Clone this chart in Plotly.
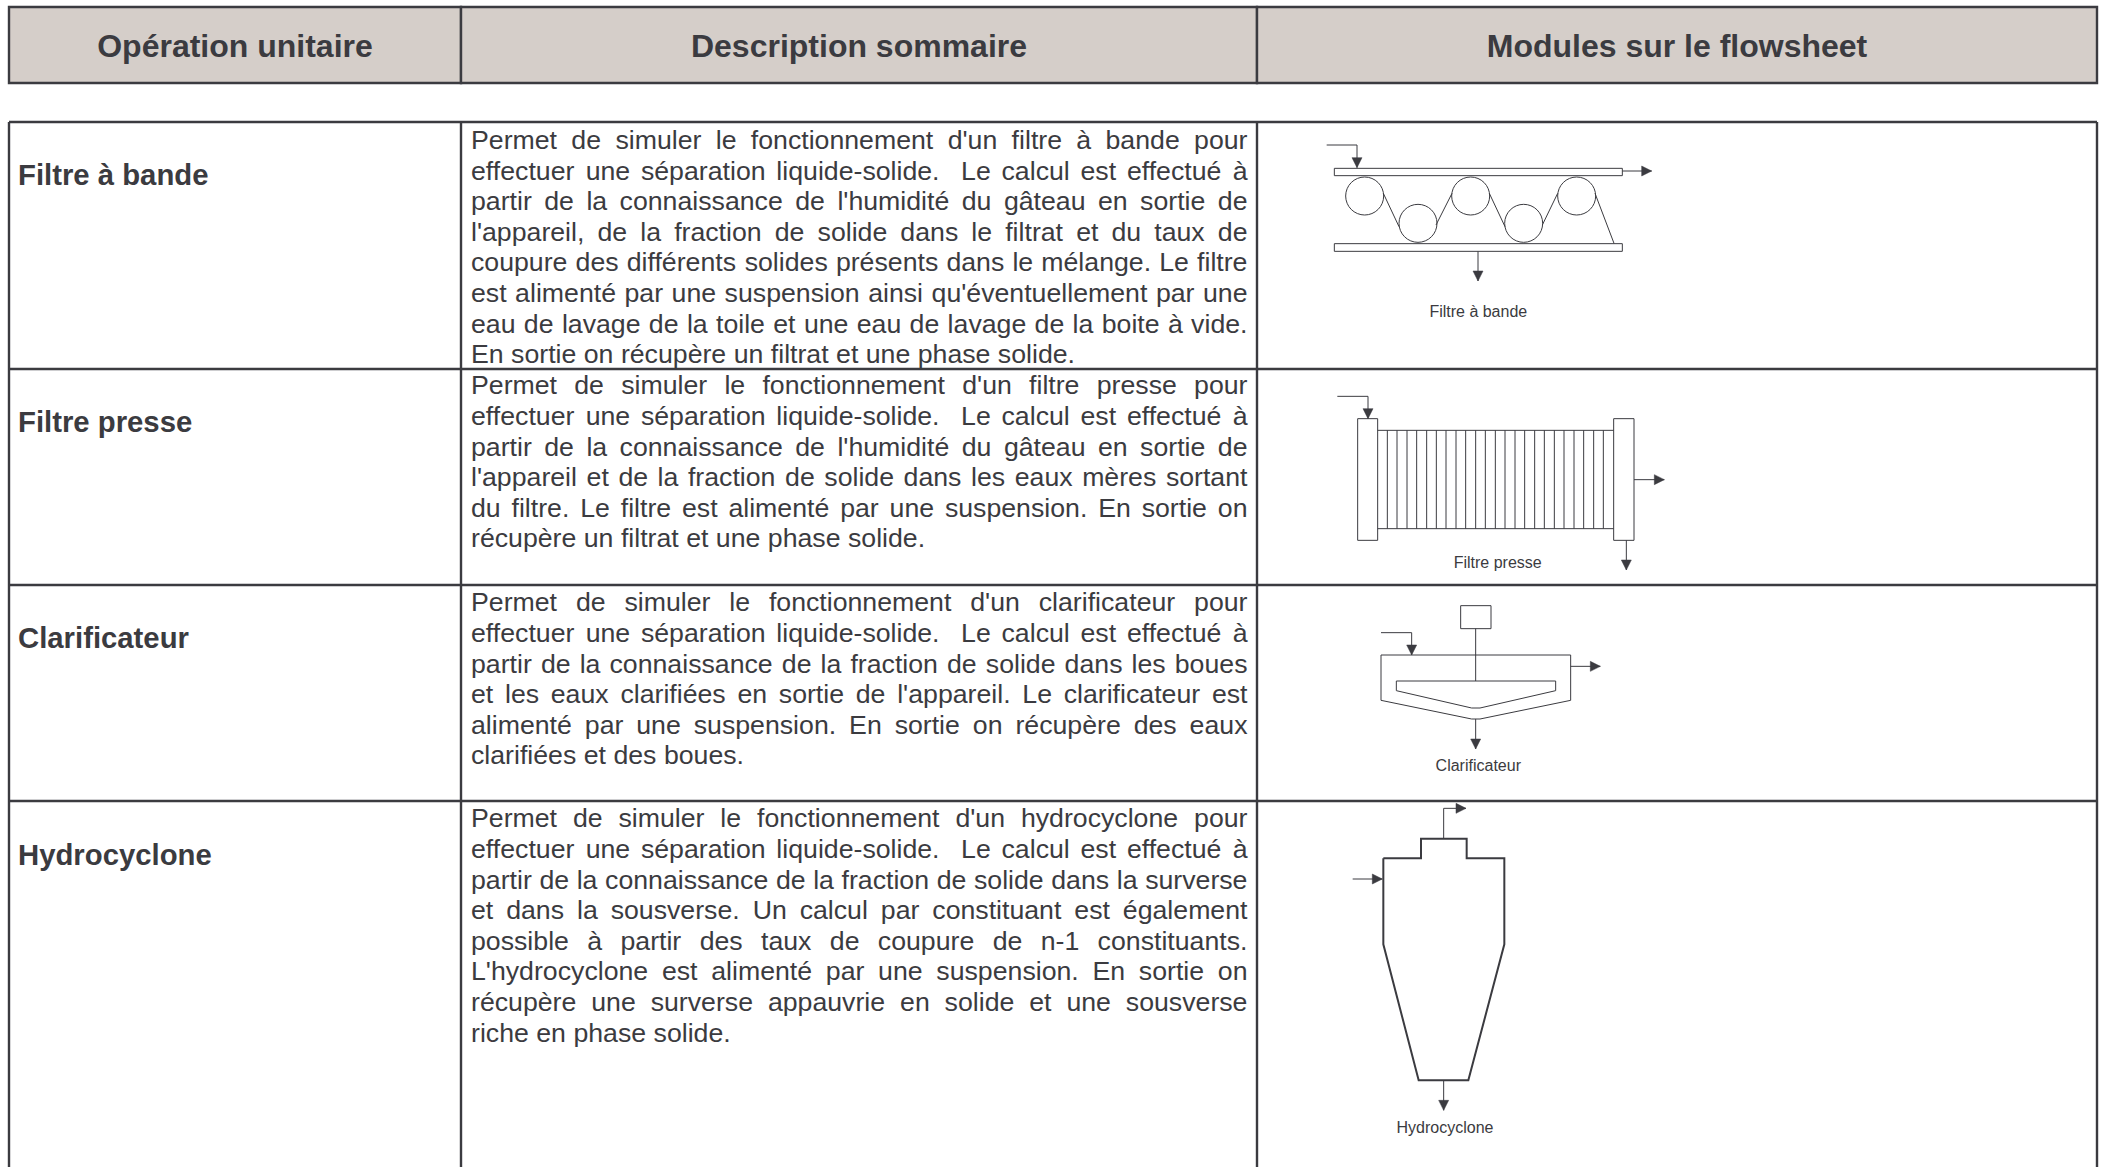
import unicodedata
import plotly.graph_objects as go

W, H = 2102, 1167
INK = "#3b3b40"
FILL = "#d5cec9"
FONT = "Liberation Sans"

# ---------- table content ----------
headers = ["Opération unitaire", "Description sommaire", "Modules sur le flowsheet"]
operations = ["Filtre à bande", "Filtre presse", "Clarificateur", "Hydrocyclone"]
desc_bande = [
    "Permet de simuler le fonctionnement d'un filtre à bande pour",
    "effectuer une séparation liquide-solide.  Le calcul est effectué à",
    "partir de la connaissance de l'humidité du gâteau en sortie de",
    "l'appareil, de la fraction de solide dans le filtrat et du taux de",
    "coupure des différents solides présents dans le mélange. Le filtre",
    "est alimenté par une suspension ainsi qu'éventuellement par une",
    "eau de lavage de la toile et une eau de lavage de la boite à vide.",
    "En sortie on récupère un filtrat et une phase solide.",
]
desc_presse = [
    "Permet de simuler le fonctionnement d'un filtre presse pour",
    "effectuer une séparation liquide-solide.  Le calcul est effectué à",
    "partir de la connaissance de l'humidité du gâteau en sortie de",
    "l'appareil et de la fraction de solide dans les eaux mères sortant",
    "du filtre. Le filtre est alimenté par une suspension. En sortie on",
    "récupère un filtrat et une phase solide.",
]
desc_clarif = [
    "Permet de simuler le fonctionnement d'un clarificateur pour",
    "effectuer une séparation liquide-solide.  Le calcul est effectué à",
    "partir de la connaissance de la fraction de solide dans les boues",
    "et les eaux clarifiées en sortie de l'appareil. Le clarificateur est",
    "alimenté par une suspension. En sortie on récupère des eaux",
    "clarifiées et des boues.",
]
desc_hydro = [
    "Permet de simuler le fonctionnement d'un hydrocyclone pour",
    "effectuer une séparation liquide-solide.  Le calcul est effectué à",
    "partir de la connaissance de la fraction de solide dans la surverse",
    "et dans la sousverse. Un calcul par constituant est également",
    "possible à partir des taux de coupure de n-1 constituants.",
    "L'hydrocyclone est alimenté par une suspension. En sortie on",
    "récupère une surverse appauvrie en solide et une sousverse",
    "riche en phase solide.",
]
descriptions = [desc_bande, desc_presse, desc_clarif, desc_hydro]
module_labels = ["Filtre à bande", "Filtre presse", "Clarificateur", "Hydrocyclone"]

# ---------- table layout (page pixels) ----------
col_x = [9, 461, 1257, 2097]
head_y = [7, 83]
row_y = [122, 369, 585, 801]
page_bottom = 1167
line_y0 = [142.3, 387.8, 604.8, 820.8]
label_y = [177.5, 424.5, 640.5, 857.5]
TXT_L, TXT_R = 471, 1247.5
LEAD = 30.6
BODY = 26.7

HELV = dict(a=556,b=556,c=500,d=556,e=556,f=278,g=556,h=556,i=222,j=222,k=500,l=222,m=833,n=556,
            o=556,p=556,q=556,r=333,s=500,t=278,u=556,v=500,w=722,x=500,y=500,z=500,
            E=667,L=556,P=667,U=722)
HELV.update({"'":191, ",":278, ".":278, "-":333, "1":556})

def width(word):
    base = unicodedata.normalize("NFD", word)
    return sum(HELV.get(c, 0) for c in base) * BODY / 1000

def justified(line, y, last):
    words = line.split(" ")
    tokens, gaps, g = [], [], 1
    for w in words:
        if w == "":
            g += 1
            continue
        if tokens:
            gaps.append(g)
        tokens.append(w)
        g = 1
    total = sum(width(w) for w in tokens)
    unit = 0.278 * BODY if last else (TXT_R - TXT_L - total) / sum(gaps)
    out, x = [], TXT_L
    for i, w in enumerate(tokens):
        out.append((x, y, w))
        x += width(w)
        if i < len(gaps):
            x += gaps[i] * unit
    return out

body_words = []
for lines, y0 in zip(descriptions, line_y0):
    for i, ln in enumerate(lines):
        body_words += justified(ln, y0 + i * LEAD, i == len(lines) - 1)

# ---------- flowsheet geometry, grouped as (origin x, origin y) + crop pixels / 3 ----------
def P(ox, oy, pts):
    return [(ox + a / 3, oy + b / 3) for a, b in pts]

fig = go.Figure()

def poly(pts, w=1.0, close=False, color=INK):
    pts = list(pts)
    if close:
        pts.append(pts[0])
    fig.add_trace(go.Scatter(x=[p[0] for p in pts], y=[p[1] for p in pts], mode="lines",
                             line=dict(color=color, width=w), hoverinfo="skip", showlegend=False))

def arrow(pts, w=1.0):
    """polyline whose final segment ends in a filled head"""
    poly(pts, w)
    (x0, y0), (x1, y1) = pts[-2], pts[-1]
    d = ((x1 - x0) ** 2 + (y1 - y0) ** 2) ** 0.5
    ux, uy = (x1 - x0) / d, (y1 - y0) / d
    L, hw = 10, 5
    bx, by = x1 - ux * L, y1 - uy * L
    xs = [x1, bx - uy * hw, bx + uy * hw, x1]
    ys = [y1, by + ux * hw, by - ux * hw, y1]
    fig.add_trace(go.Scatter(x=xs, y=ys, mode="lines", fill="toself", fillcolor=INK,
                             line=dict(color=INK, width=0.5), hoverinfo="skip", showlegend=False))

def rect(ox, oy, x0, y0, x1, y1, w=1.0):
    poly(P(ox, oy, [(x0, y0), (x1, y0), (x1, y1), (x0, y1)]), w, close=True)

# header fill
for i in range(3):
    fig.add_shape(type="rect", xref="x", yref="y", x0=col_x[i], x1=col_x[i + 1], y0=head_y[0], y1=head_y[1],
                  fillcolor=FILL, line=dict(color=INK, width=2.4), layer="below")

# body grid
for y in row_y:
    poly([(col_x[0], y), (col_x[3], y)], 2.4)
for x in col_x:
    poly([(x, row_y[0]), (x, page_bottom)], 2.4)

# --- Filtre à bande
o = (1250, 110)
rect(*o, 253, 175, 1117, 197)
rect(*o, 253, 401, 1117, 424)
arrow(P(*o, [(230, 105), (321, 105), (321, 173)]))
arrow(P(*o, [(1117, 183), (1205, 183)]))
arrow(P(*o, [(684, 424), (684, 513)]))
roller_x = [344, 504, 662, 821, 980]
roller_y = [258, 340, 258, 340, 258]
for cx, cy in zip(roller_x, roller_y):
    fig.add_shape(type="circle", xref="x", yref="y", x0=o[0] + (cx - 57) / 3, x1=o[0] + (cx + 57) / 3,
                  y0=o[1] + (cy - 57) / 3, y1=o[1] + (cy + 57) / 3, line=dict(color=INK, width=1))
for seg in [[(400, 250), (447, 350)], [(558, 345), (606, 250)], [(718, 250), (765, 350)],
            [(877, 345), (923, 250)], [(1035, 250), (1092, 400)]]:
    poly(P(*o, seg))

# --- Filtre presse
o = (1250, 370)
rect(*o, 323, 146, 383, 511)
rect(*o, 1091, 146, 1152, 511)
poly(P(*o, [(383, 181), (1091, 181)]))
poly(P(*o, [(383, 476), (1091, 476)]))
plates = [412, 441, 471, 500, 530, 559, 588, 618, 647, 677, 706, 736, 765, 795, 824, 854, 883, 913, 942, 972,
          1001, 1031, 1060]
for px in plates:
    poly(P(*o, [(px, 181), (px, 476)]))
arrow(P(*o, [(262, 79), (354, 79), (354, 146)]))
arrow(P(*o, [(1152, 329), (1243, 329)]))
arrow(P(*o, [(1129, 511), (1129, 600)]))

# --- Clarificateur
o = (1250, 590)
rect(*o, 632, 47, 723, 116)
poly(P(*o, [(677, 116), (677, 273)]))
poly(P(*o, [(393, 195), (962, 195), (962, 331), (690, 387), (665, 387), (393, 331)]), close=True)
poly(P(*o, [(439, 273), (917, 273), (917, 302), (690, 354), (665, 354), (439, 302)]), close=True)
arrow(P(*o, [(393, 128), (485, 128), (485, 195)]))
arrow(P(*o, [(962, 229), (1051, 229)]))
arrow(P(*o, [(677, 387), (677, 477)]))

# --- Hydrocyclone
o = (1300, 790)
poly(P(*o, [(250, 205), (363, 205), (363, 146), (500, 146), (500, 205), (613, 205), (613, 463), (505, 871),
            (356, 871), (250, 463)]), 2.0, close=True)
arrow(P(*o, [(431, 146), (431, 55), (498, 55)]))
arrow(P(*o, [(158, 267), (247, 267)]))
arrow(P(*o, [(431, 871), (431, 961)]))

# ---------- texts ----------
def text(xs, ys, labels, size, pos, bold=False):
    fig.add_trace(go.Scatter(x=xs, y=ys, text=labels, mode="text", textposition=pos, hoverinfo="skip",
                             showlegend=False, cliponaxis=False,
                             textfont=dict(family=FONT, size=size, color=INK, weight=700 if bold else 400)))

text([235, 859, 1677], [48.5] * 3, headers, 32, "middle center", True)
text([18] * 4, label_y, operations, 29.3, "middle right", True)
text([w[0] for w in body_words], [w[1] for w in body_words], [w[2] for w in body_words], BODY, "middle right")
text([1478.3, 1497.7, 1478.3, 1445], [313, 564, 767, 1129], module_labels, 16, "middle center")

fig.update_layout(
    width=W, height=H, margin=dict(l=0, r=0, t=0, b=0), paper_bgcolor="white", plot_bgcolor="white",
    showlegend=False,
    xaxis=dict(range=[0, W], visible=False, fixedrange=True),
    yaxis=dict(range=[H, 0], visible=False, fixedrange=True),
)
fig.write_html("out.html", config={"displayModeBar": False},
               post_script="document.body.style.margin='0';document.body.style.overflow='hidden';")
